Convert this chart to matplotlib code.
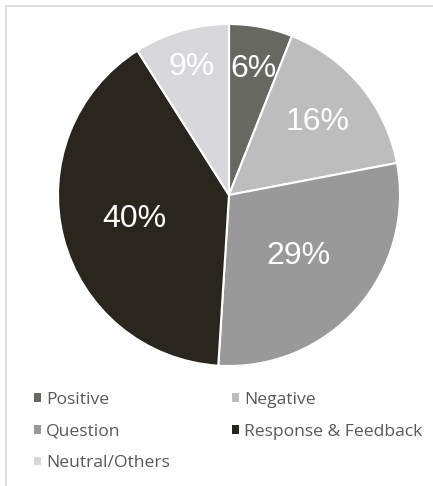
import matplotlib.pyplot as plt
import numpy as np
from matplotlib.patches import Rectangle

categories = ['Positive', 'Negative', 'Question', 'Response & Feedback', 'Neutral/Others']
shares = [6, 16, 29, 40, 9]
colors = ['#686862', '#bdbdbd', '#999999', '#2a261e', '#d8d8da']

# radial position of each percentage label (fraction of radius)
label_r = [0.75, 0.67, 0.54, 0.57, 0.78]

fig = plt.figure(figsize=(4.33, 4.86), dpi=100)

# thin chart-area frame, cropped on right and bottom
fig.patches.append(Rectangle((6 / 433, -0.1), 1.2, (480 / 486) + 0.1,
                             transform=fig.transFigure, fill=False,
                             edgecolor='#d9d9d9', linewidth=1.2))

ax = fig.add_axes([58 / 433, 120 / 486, 342 / 433, 342 / 486])
wedges, _ = ax.pie(shares, colors=colors, startangle=90, counterclock=False,
                   wedgeprops=dict(edgecolor='white', linewidth=1.5))
ax.set_xlim(-1.0, 1.0)
ax.set_ylim(-1.0, 1.0)
ax.set_aspect('equal')

total = sum(shares)
for w, s, r in zip(wedges, shares, label_r):
    mid = np.deg2rad((w.theta1 + w.theta2) / 2)
    ax.text(r * np.cos(mid), r * np.sin(mid), f'{round(100 * s / total)}%',
            ha='center', va='center', color='white', fontsize=23,
            family='Liberation Sans')

# legend, filled row by row
order = [0, 2, 4, 1, 3]
leg = fig.legend([wedges[i] for i in order], [categories[i] for i in order],
                 ncol=2, loc='upper left', bbox_to_anchor=(18 / 433, 1 - 376 / 486),
                 frameon=False, handlelength=0.4, handleheight=0.4,
                 handletextpad=0.3, columnspacing=3.55, labelspacing=0.9,
                 prop={'family': 'Open Sans', 'size': 12.6})
for t in leg.get_texts():
    t.set_color('#595959')
for h in leg.legend_handles:
    h.set_edgecolor('none')

fig.savefig('out.png', dpi=100)
